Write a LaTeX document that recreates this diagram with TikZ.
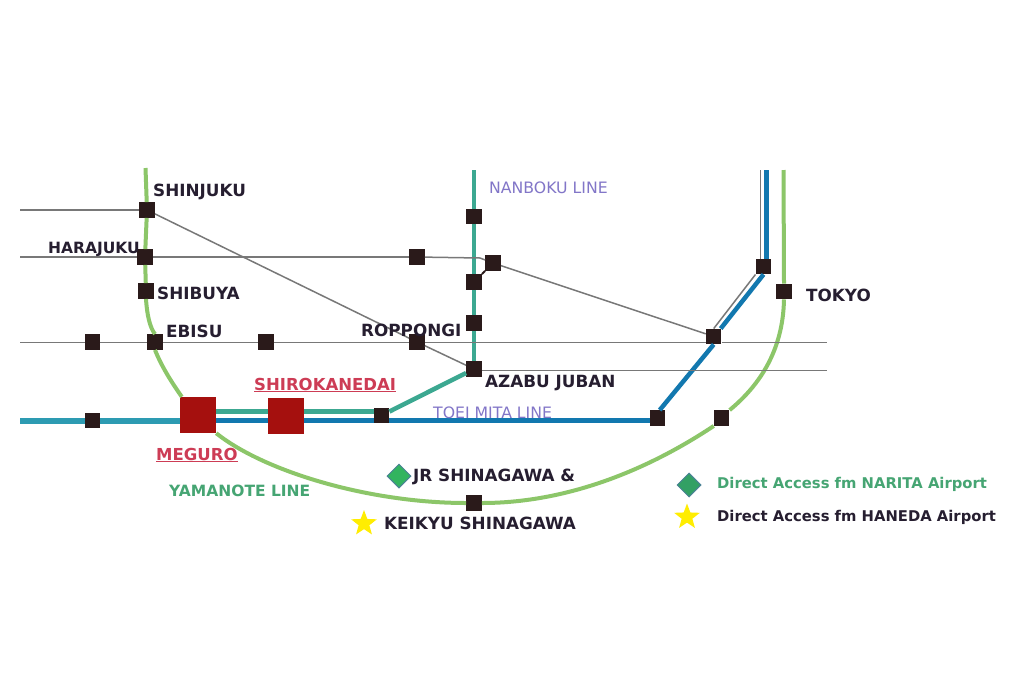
\documentclass[tikz,border=0pt]{standalone}
\usepackage{fontspec}
\setmainfont{DejaVu Sans}
\usetikzlibrary{shapes.geometric, positioning, calc}
\definecolor{stationdark}{RGB}{42, 26, 26}
\definecolor{stationred}{RGB}{165, 16, 14}
\definecolor{labelred}{RGB}{205, 60, 85}
\definecolor{labeldark}{RGB}{38, 30, 48}
\definecolor{yamagreen}{RGB}{140, 198, 105}
\definecolor{nanteal}{RGB}{60, 168, 145}
\definecolor{mitablue}{RGB}{18, 120, 175}
\definecolor{mixblue}{RGB}{45, 155, 178}
\definecolor{thingray}{RGB}{120, 120, 120}
\definecolor{linepurple}{RGB}{130, 118, 200}
\definecolor{textgreen}{RGB}{70, 165, 115}
\definecolor{diamgreen}{RGB}{50, 180, 95}
\definecolor{diamdeep}{RGB}{50, 160, 100}
\definecolor{diamedge}{RGB}{75, 130, 150}
\tikzset{
  stn/.style={draw=none, fill=stationdark, minimum size=15.5pt, inner sep=0pt},
  bigstn/.style={draw=none, fill=stationred, minimum size=36pt, inner sep=0pt},
  lbl/.style={font=\bfseries\fontsize{16.8}{19}\selectfont, text=labeldark, anchor=west, inner sep=0pt},
  redlbl/.style={font=\bfseries\fontsize{16.5}{19}\selectfont, text=labelred, anchor=west, inner sep=0pt},
  linelbl/.style={font=\fontsize{15.7}{18}\selectfont, text=linepurple, anchor=west, inner sep=0pt},
  legendlbl/.style={font=\bfseries\fontsize{14.8}{17}\selectfont, text=labeldark, anchor=west, inner sep=0pt},
  grayline/.style={draw=thingray, line width=1.5pt},
  thinline/.style={draw=thingray, line width=1pt},
  yamaline/.style={draw=yamagreen, line width=4pt},
  tealline/.style={draw=nanteal, line width=4pt},
  blueline/.style={draw=mitablue, line width=4.5pt},
  diam/.style={diamond, fill=#1, draw=diamedge, line width=1pt, minimum size=24pt, inner sep=0pt},
  staryellow/.style={star, star points=5, star point ratio=2.4, fill=yellow!95!orange, minimum size=27pt, inner sep=0pt},
}
\begin{document}
\begin{tikzpicture}[x=1pt, y=-1pt]
  \useasboundingbox[fill=white] (0,0) rectangle (1024,683);

  % Stations
  \node[stn] (shinjuku) at (147,210) {};
  \node[stn] (harajuku) at (145,257) {};
  \node[stn] (shibuya) at (146,291) {};
  \node[stn] (ebisu) at (155,342) {};
  \node[stn] (westa) at (92.5,342) {};
  \node[stn] (westb) at (266,342) {};
  \node[stn] (roppongi) at (417,342) {};
  \node[stn] (midhara) at (417,257) {};
  \node[stn] (nana) at (474,216.5) {};
  \node[stn] (nanb) at (474,282) {};
  \node[stn] (nanc) at (474,323) {};
  \node[stn] (azabu) at (474,369) {};
  \node[stn] (nagatacho) at (493,263) {};
  \node[stn] (kanda) at (713.7,336.5) {};
  \node[stn] (otemachi) at (763.5,266.5) {};
  \node[stn] (tokyo) at (784,291.5) {};
  \node[stn] (mitawest) at (92.5,420.5) {};
  \node[bigstn] (meguro) at (198,415) {};
  \node[bigstn] (shirokanedai) at (286,415.5) {};
  \node[stn] (shirokane) at (381.5,415.5) {};
  \node[stn] (mitaeast) at (657.7,418) {};
  \node[stn] (yamaeast) at (721.7,418) {};
  \node[stn] (shinagawa) at (474,503) {};

  % Free line ends
  \coordinate (gfta) at (20,210);
  \coordinate (gftb) at (20,257);
  \coordinate (gftc) at (20,342);
  \coordinate (grta) at (827,342);
  \coordinate (grtb) at (827,370.5);
  \coordinate (bendhara) at (480,258);
  \coordinate (yamnw) at (145.5,168);
  \coordinate (yamne) at (783.5,170);
  \coordinate (nantop) at (474,170);
  \coordinate (bluetop) at (766.5,170);
  \coordinate (graytop) at (760.7,170);
  \coordinate (mixwest) at (20,420.5);

  % Yamanote line
  \draw[yamaline] (yamnw) -- (shinjuku);
  \draw[yamaline] (shinjuku) -- (harajuku);
  \draw[yamaline] (harajuku) -- (shibuya);
  \draw[yamaline] (shibuya.south) .. controls (147,315) and (150,328) .. (ebisu.north);
  \draw[yamaline] (ebisu.south) .. controls (161,365) and (170,380) .. ([xshift=2pt]meguro.north west);
  \draw[yamaline] (meguro.south east) .. controls (265,472) and (370,503) .. (shinagawa.west);
  \draw[yamaline] (shinagawa.east) .. controls (560,503) and (640,475) .. (yamaeast.south west);
  \draw[yamaline] (yamaeast.north east) .. controls (760,385) and (783,350) .. (tokyo.south);
  \draw[yamaline] (tokyo.north) -- (yamne);

  % Nanboku line
  \draw[tealline] (nantop) -- (nana);
  \draw[tealline] (nana) -- (nanb);
  \draw[tealline] (nanb) -- (nanc);
  \draw[tealline] (nanc) -- (azabu);
  \draw[tealline, line width=4.5pt] (azabu) -- (shirokane);
  \draw[tealline, line width=5pt] ([yshift=4.5pt]shirokane.west) -- ([yshift=4.5pt]shirokanedai.east);
  \draw[tealline, line width=5pt] ([yshift=4.5pt]shirokanedai.west) -- ([yshift=4pt]meguro.east);

  % Toei Mita line
  \draw[draw=mixblue, line width=6pt] (mixwest) -- (mitawest);
  \draw[draw=mixblue, line width=6pt] (mitawest) -- (mitawest -| meguro.west);
  \draw[blueline] ([yshift=-5.5pt]meguro.east) -- ([yshift=-5pt]shirokanedai.west);
  \draw[blueline] ([yshift=-5pt]shirokanedai.east) -- ([yshift=-5pt]shirokane.west);
  \draw[blueline] ([yshift=-5pt]shirokane.east) -- ([yshift=-2.5pt]mitaeast.west);
  \draw[blueline] ([xshift=2pt]mitaeast.north) -- (kanda.south);
  \draw[blueline] ([xshift=7pt]kanda.north) -- (otemachi.south);
  \draw[blueline, line width=5pt] (bluetop) -- (bluetop |- otemachi.north);

  % Thin gray lines
  \draw[grayline] (gfta) -- (shinjuku);
  \draw[grayline] (shinjuku) -- (roppongi);
  \draw[grayline] (roppongi) -- (azabu);
  \draw[grayline] (gftb) -- (harajuku);
  \draw[grayline] (harajuku) -- (midhara);
  \draw[grayline] (midhara) -- (bendhara) -- (nagatacho);
  \draw[grayline] (nagatacho) -- (kanda);
  \draw[thinline] (gftc) -- (westa);
  \draw[thinline] (westa) -- (ebisu);
  \draw[thinline] (ebisu) -- (westb);
  \draw[thinline] (westb) -- (roppongi);
  \draw[thinline] (roppongi) -- (kanda.west |- grta);
  \draw[thinline] (kanda.east |- grta) -- (grta);
  \draw[thinline] (azabu.east |- grtb) -- (grtb);
  \draw[grayline] (kanda.north) -- ([xshift=-8pt]otemachi.south);
  \draw[grayline] (graytop) -- (graytop |- otemachi.north);
  \draw[draw=stationdark, line width=2pt] (nanb) -- (nagatacho);

  % Station labels
  \node[lbl] (shinjukulbl) at (153,191.5) {SHINJUKU};
  \node[lbl, font=\bfseries\fontsize{15.5}{18}\selectfont] (harajukulbl) at (48,249) {HARAJUKU};
  \node[lbl] (shibuyalbl) at (157,293) {SHIBUYA};
  \node[lbl] (ebisulbl) at (166,331) {EBISU};
  \node[lbl] (roppongilbl) at (361,330) {ROPPONGI};
  \node[lbl] (azabulbl) at (485,383) {AZABU JUBAN};
  \node[lbl] (tokyolbl) at (806,295) {TOKYO};
  \node[lbl] (jrlbl) at (413,477) {JR SHINAGAWA \&};
  \node[lbl] (keikyulbl) at (384,523) {KEIKYU SHINAGAWA};
  \node[redlbl] (shirokanedailbl) at (254,385) {\underline{SHIROKANEDAI}};
  \node[redlbl] (megurolbl) at (156,455) {\underline{MEGURO}};

  % Line labels
  \node[linelbl] (nanbokulbl) at (489,188) {NANBOKU LINE};
  \node[linelbl] (mitalbl) at (433,413) {TOEI MITA LINE};
  \node[linelbl, text=textgreen, font=\bfseries\fontsize{15.5}{18}\selectfont] (yamalbl) at (169,491) {YAMANOTE LINE};

  % Airport marks and legend
  \node[diam=diamgreen] (jrmark) at (399,476) {};
  \node[staryellow] (keikyumark) at (364,523.5) {};
  \node[diam=diamdeep] (naritamark) at (689,485) {};
  \node[staryellow] (hanedamark) at (687,517) {};
  \node[legendlbl, text=textgreen] (naritalbl) at (717,484) {Direct Access fm NARITA Airport};
  \node[legendlbl] (hanedalbl) at (717,517) {Direct Access fm HANEDA Airport};
\end{tikzpicture}
\end{document}
